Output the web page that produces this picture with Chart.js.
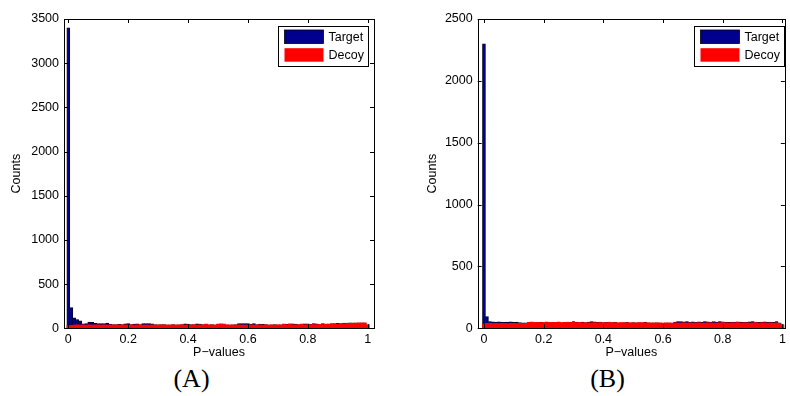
<!DOCTYPE html>
<html>
<head>
<meta charset="utf-8">
<script src="https://cdn.jsdelivr.net/npm/chart.js@4.4.1/dist/chart.umd.min.js"></script>
<style>
    html, body { margin: 0; padding: 0; background: #fff; }
    body { width: 790px; height: 396px; position: relative; overflow: hidden; }
    .panel { position: absolute; top: 0; width: 395px; height: 362px; }
    .caption {
        position: absolute; top: 365px; width: 100px; text-align: center;
        font-family: 'Liberation Serif', 'Times New Roman', serif;
        font-size: 26px; line-height: 28px; color: #000;
    }
</style>
</head>
<body>
<div class="panel" style="left:0"><canvas id="chartA"></canvas></div>
<div class="panel" style="left:395px"><canvas id="chartB"></canvas></div>
<div class="caption" style="left:141.5px">(A)</div>
<div class="caption" style="left:557.5px">(B)</div>
<script>
"use strict";

// histogram bins, centres 0, 0.01 ... 1
const binCenters = Array.from({ length: 101 }, (_, i) => i / 100);
const xTicks = [0, 0.2, 0.4, 0.6, 0.8, 1];
const seriesLabels = ['Target', 'Decoy'];

// (A)
const targetA = [
    3400, 235, 118, 100, 85, 50, 53, 70, 68, 56,
    54, 53, 52, 60, 48, 42, 41, 44, 42, 50,
    53, 42, 48, 50, 41, 52, 54, 53, 50, 42,
    40, 42, 41, 39, 40, 41, 38, 40, 41, 50,
    48, 42, 41, 50, 48, 41, 40, 39, 41, 38,
    41, 40, 39, 38, 40, 39, 41, 52, 54, 53,
    52, 48, 52, 42, 48, 46, 41, 40, 39, 41,
    40, 38, 42, 46, 43, 50, 48, 42, 44, 51,
    50, 46, 52, 50, 44, 52, 46, 48, 54, 52,
    56, 52, 58, 60, 62, 60, 61, 58, 62, 58,
    36
];
const decoyA = [
    32, 35, 37, 39, 37, 38, 37, 40, 37, 39,
    38, 37, 39, 37, 38, 37, 36, 38, 37, 39,
    37, 38, 37, 39, 38, 37, 36, 37, 38, 37,
    39, 37, 38, 36, 37, 38, 37, 39, 38, 37,
    38, 37, 39, 37, 38, 37, 49, 38, 39, 37,
    49, 51, 47, 38, 37, 39, 37, 38, 37, 36,
    37, 38, 37, 36, 38, 37, 39, 37, 38, 37,
    39, 38, 49, 40, 51, 39, 38, 40, 47, 39,
    41, 43, 42, 41, 44, 43, 47, 49, 45, 47,
    49, 52, 51, 53, 55, 59, 57, 61, 59, 62,
    42
];

// (B)
const targetB = [
    2300, 95, 55, 52, 50, 52, 50, 48, 50, 52,
    48, 50, 46, 44, 45, 48, 46, 47, 45, 48,
    46, 48, 47, 45, 46, 48, 45, 47, 50, 48,
    55, 50, 48, 50, 46, 50, 54, 52, 48, 50,
    46, 48, 50, 47, 48, 45, 44, 46, 48, 45,
    47, 44, 46, 45, 48, 44, 45, 43, 45, 44,
    42, 43, 44, 42, 50, 55, 54, 52, 55, 50,
    53, 48, 52, 50, 55, 52, 50, 54, 51, 55,
    52, 50, 48, 51, 50, 52, 50, 49, 48, 52,
    55, 50, 48, 50, 52, 51, 50, 49, 55, 45,
    30
];
const decoyB = [
    35, 40, 40, 38, 40, 39, 41, 40, 38, 40,
    41, 39, 40, 38, 40, 48, 50, 47, 48, 46,
    48, 50, 47, 49, 48, 50, 47, 49, 48, 46,
    48, 47, 49, 45, 47, 45, 44, 46, 45, 47,
    44, 46, 48, 45, 47, 44, 46, 45, 47, 44,
    43, 45, 44, 46, 44, 45, 43, 45, 44, 42,
    43, 44, 43, 42, 44, 42, 43, 45, 42, 44,
    43, 45, 44, 42, 43, 45, 44, 42, 43, 45,
    46, 44, 43, 45, 44, 46, 43, 45, 44, 42,
    44, 46, 43, 45, 44, 42, 45, 43, 44, 40,
    25
];

const TARGET_COLOR = '#00008f';
const DECOY_COLOR = '#ff0000';

Chart.defaults.font.family = "'Liberation Sans', Arial, sans-serif";
Chart.defaults.font.size = 12.5;
Chart.defaults.color = '#000';

// MATLAB style box with inward ticks on all four sides
const frameBox = {
    id: 'frameBox',
    afterDraw(chart) {
        const { ctx, chartArea: a, scales } = chart;
        const len = 4;
        ctx.save();
        ctx.strokeStyle = '#000';
        ctx.lineWidth = 1;
        ctx.beginPath();
        scales.y.ticks.forEach(t => {
            const py = Math.round(scales.y.getPixelForValue(t.value)) + 0.5;
            ctx.moveTo(a.left, py); ctx.lineTo(a.left + len, py);
            ctx.moveTo(a.right, py); ctx.lineTo(a.right - len, py);
        });
        scales.x.ticks.forEach(t => {
            const px = Math.round(scales.x.getPixelForValue(t.value)) + 0.5;
            ctx.moveTo(px, a.bottom); ctx.lineTo(px, a.bottom - len);
            ctx.moveTo(px, a.top); ctx.lineTo(px, a.top + len);
        });
        ctx.stroke();
        ctx.strokeRect(Math.round(a.left) + 0.5, Math.round(a.top) + 0.5,
            Math.round(a.right - a.left), Math.round(a.bottom - a.top));
        ctx.restore();
    }
};

// legend drawn inside the axes, top right
const boxLegend = {
    id: 'boxLegend',
    afterDraw(chart, args, opts) {
        const { ctx, chartArea: a } = chart;
        const w = 90, h = 40;
        const x0 = Math.round(a.right - opts.gapRight - w) + 0.5;
        const y0 = Math.round(a.top + 6.7) + 0.5;
        ctx.save();
        ctx.fillStyle = '#fff';
        ctx.fillRect(x0, y0, w, h);
        ctx.strokeStyle = '#000';
        ctx.lineWidth = 1;
        ctx.strokeRect(x0, y0, w, h);
        ctx.font = "12.5px 'Liberation Sans', Arial, sans-serif";
        ctx.textBaseline = 'middle';
        chart.data.datasets.forEach((ds, i) => {
            const sy = y0 + 3.5 + i * 18.2;
            ctx.fillStyle = ds.backgroundColor;
            ctx.fillRect(x0 + 6, sy, 39, 13.5);
            if (ds.borderWidth) {
                ctx.strokeStyle = ds.borderColor;
                ctx.lineWidth = 0.8;
                ctx.strokeRect(x0 + 6, sy, 39, 13.5);
            }
            ctx.fillStyle = '#000';
            ctx.fillText(ds.label, x0 + 50, sy + 7.5);
        });
        ctx.restore();
    }
};

function toPoints(values) {
    return values.map((v, i) => ({ x: binCenters[i], y: v }));
}

function createChart(id, target, decoy, p) {
    new Chart(document.getElementById(id), {
        type: 'bar',
        data: {
            datasets: [{
                label: seriesLabels[0],
                data: toPoints(target),
                backgroundColor: TARGET_COLOR,
                borderColor: '#000',
                borderWidth: 0.7,
                order: 1
            }, {
                label: seriesLabels[1],
                data: toPoints(decoy),
                backgroundColor: DECOY_COLOR,
                borderWidth: 0,
                order: 0
            }]
        },
        options: {
            responsive: true,
            maintainAspectRatio: false,
            animation: false,
            devicePixelRatio: 1,
            grouped: false,
            barPercentage: 1,
            categoryPercentage: 1,
            layout: {
                padding: { left: p.padLeft, top: 19, right: p.padRight, bottom: 2 }
            },
            plugins: {
                legend: { display: false },
                tooltip: { enabled: false },
                boxLegend: { gapRight: p.legendGap }
            },
            scales: {
                x: {
                    type: 'linear',
                    offset: false,
                    min: p.xMin,
                    max: p.xMax,
                    afterBuildTicks: s => { s.ticks = xTicks.map(v => ({ value: v })); },
                    afterFit: s => { s.height = 360 - 328.3; },
                    grid: { display: false, drawTicks: false, offset: false },
                    border: { display: false },
                    ticks: {
                        padding: 4,
                        maxRotation: 0,
                        autoSkip: false,
                        callback: v => String(+v.toFixed(1))
                    },
                    title: {
                        display: true,
                        text: 'P\u2212values',
                        padding: 0,
                        font: { size: 12.5 }
                    }
                },
                y: {
                    min: 0,
                    max: p.yMax,
                    afterFit: s => { s.width = p.yWidth; },
                    grid: { display: false, drawTicks: false },
                    border: { display: false },
                    ticks: { stepSize: 500, padding: 5, callback: v => String(v) },
                    title: {
                        display: true,
                        text: 'Counts',
                        padding: 0,
                        font: { size: 12.5 }
                    }
                }
            }
        },
        plugins: [frameBox, boxLegend]
    });
}

createChart('chartA', targetA, decoyA, {
    padLeft: 9, padRight: 21, yWidth: 55, yMax: 3500,
    xMin: -0.0144, xMax: 1.021, legendGap: 5.7
});
createChart('chartB', targetB, decoyB, {
    padLeft: 30, padRight: 5, yWidth: 52.7, yMax: 2500,
    xMin: -0.021, xMax: 1.008, legendGap: 1
});
</script>
</body>
</html>
